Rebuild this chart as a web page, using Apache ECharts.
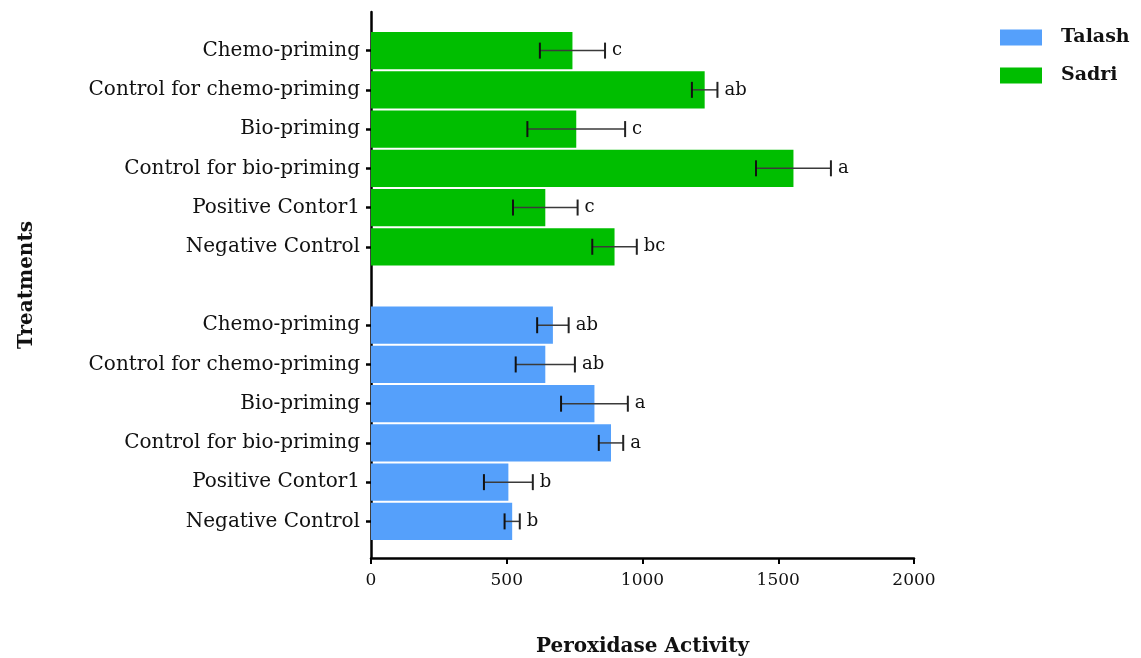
<!DOCTYPE html>
<html>
<head>
<meta charset="utf-8">
<script src="https://cdn.jsdelivr.net/npm/echarts@6/dist/echarts.min.js"></script>
<style>
  html, body { margin: 0; padding: 0; background: #fff; }
  #main { width: 1141px; height: 658px; }
</style>
</head>
<body>
<div id="main"></div>
<script>
var dom = document.getElementById("main");
var myChart = echarts.init(dom);

// treatments, top to bottom as drawn in each group
var treatments = ['Chemo-priming', 'Control for chemo-priming', 'Bio-priming',
                  'Control for bio-priming', 'Positive Contor1', 'Negative Control'];

var sadriMean = [742, 1229, 756, 1556, 642, 897];
var sadriErr = [120, 47, 180, 138, 119, 82];
var sadriLetters = ['c', 'ab', 'c', 'a', 'c', 'bc'];

var talashMean = [670, 642, 823, 884, 506, 520];
var talashErr = [58, 109, 123, 45, 90, 28];
var talashLetters = ['ab', 'ab', 'a', 'a', 'b', 'b'];

var xTicks = [0, 500, 1000, 1500, 2000];

var serif = '"DejaVu Serif", "Liberation Serif", serif';

// category axis goes bottom -> top: Talash group, empty slot, Sadri group
var cats = [];
var talashBars = [];
var sadriBars = [];
var errData = [];
for (var i = treatments.length - 1; i >= 0; i--) {
    cats.push('T|' + treatments[i]);
    talashBars.push(talashMean[i]);
    sadriBars.push('-');
    errData.push([cats.length - 1, talashMean[i] - talashErr[i], talashMean[i] + talashErr[i], talashLetters[i]]);
}
cats.push('gap|');
talashBars.push('-');
sadriBars.push('-');
for (var j = treatments.length - 1; j >= 0; j--) {
    cats.push('S|' + treatments[j]);
    talashBars.push('-');
    sadriBars.push(sadriMean[j]);
    errData.push([cats.length - 1, sadriMean[j] - sadriErr[j], sadriMean[j] + sadriErr[j], sadriLetters[j]]);
}

function renderErr(params, api) {
    var y = api.value(0);
    var lo = api.coord([api.value(1), y]);
    var hi = api.coord([api.value(2), y]);
    var cap = 8;
    var letter = errData[params.dataIndex][3];
    return {
        type: 'group',
        children: [{
            type: 'line',
            shape: { x1: lo[0], y1: lo[1], x2: hi[0], y2: hi[1] },
            style: { stroke: '#3a3a3a', lineWidth: 1.5 }
        }, {
            type: 'line',
            shape: { x1: lo[0], y1: lo[1] - cap, x2: lo[0], y2: lo[1] + cap },
            style: { stroke: '#111', lineWidth: 2 }
        }, {
            type: 'line',
            shape: { x1: hi[0], y1: hi[1] - cap, x2: hi[0], y2: hi[1] + cap },
            style: { stroke: '#222', lineWidth: 2 }
        }, {
            type: 'text',
            style: {
                x: hi[0] + 7, y: hi[1],
                text: letter,
                fill: '#111',
                font: '18px ' + serif,
                align: 'left',
                verticalAlign: 'middle'
            }
        }]
    };
}

var option = {
    animation: false,
    legend: {
        orient: 'vertical',
        left: 1000,
        top: 28,
        padding: 0,
        itemWidth: 42,
        itemHeight: 16,
        itemGap: 19,
        icon: 'rect',
        data: ['Talash', 'Sadri'],
        textStyle: { fontFamily: serif, fontWeight: 'bold', fontSize: 19, color: '#111', padding: [0, 0, 0, 14] }
    },
    grid: [
        { left: 371, right: 227, top: 12, bottom: 100, outerBoundsMode: 'none' },
        { left: 371, right: 227, top: 31, bottom: 117, outerBoundsMode: 'none' }
    ],
    xAxis: [{
        gridIndex: 0,
        type: 'value',
        min: 0,
        max: 2000,
        interval: 500,
        name: 'Peroxidase Activity',
        nameLocation: 'middle',
        nameGap: 79,
        nameTextStyle: { fontFamily: serif, fontWeight: 'bold', fontSize: 20, color: '#111' },
        axisLine: { show: true, lineStyle: { color: '#000', width: 2.5 } },
        axisTick: { show: true, length: 6, lineStyle: { color: '#000', width: 2 } },
        axisLabel: {
            margin: 14,
            fontFamily: serif, fontSize: 17, color: '#111',
            customValues: xTicks,
            formatter: function (v) { return String(v); }
        },
        splitLine: { show: false }
    }, {
        gridIndex: 1,
        type: 'value',
        min: 0,
        max: 2000,
        show: false
    }],
    yAxis: [{
        gridIndex: 0,
        type: 'value',
        min: 0,
        max: 1,
        name: 'Treatments',
        nameLocation: 'middle',
        nameGap: 334,
        nameRotate: 90,
        nameTextStyle: { fontFamily: serif, fontWeight: 'bold', fontSize: 20, color: '#111' },
        axisLine: { show: true, lineStyle: { color: '#000', width: 2.5 } },
        axisTick: { show: false },
        axisLabel: { show: false },
        splitLine: { show: false }
    }, {
        gridIndex: 1,
        type: 'category',
        data: cats,
        axisLine: { show: false },
        axisTick: {
            show: true,
            alignWithLabel: true,
            length: 5,
            lineStyle: { color: '#000', width: 2.5 },
            interval: function (idx, val) { return val.indexOf('gap') !== 0; }
        },
        axisLabel: {
            margin: 11,
            fontFamily: serif, fontSize: 20, color: '#111',
            interval: 0,
            formatter: function (v) { return v.split('|')[1]; }
        }
    }],
    series: [{
        name: 'Talash',
        type: 'bar',
        xAxisIndex: 1,
        yAxisIndex: 1,
        data: talashBars,
        barGap: '-100%',
        barCategoryGap: '5%',
        itemStyle: { color: '#55a0fb' }
    }, {
        name: 'Sadri',
        type: 'bar',
        xAxisIndex: 1,
        yAxisIndex: 1,
        data: sadriBars,
        barGap: '-100%',
        barCategoryGap: '5%',
        itemStyle: { color: '#00be00' }
    }, {
        type: 'custom',
        xAxisIndex: 1,
        yAxisIndex: 1,
        renderItem: renderErr,
        clip: false,
        z: 5,
        encode: { x: [1, 2], y: 0 },
        data: errData
    }]
};

myChart.setOption(option);
</script>
</body>
</html>
